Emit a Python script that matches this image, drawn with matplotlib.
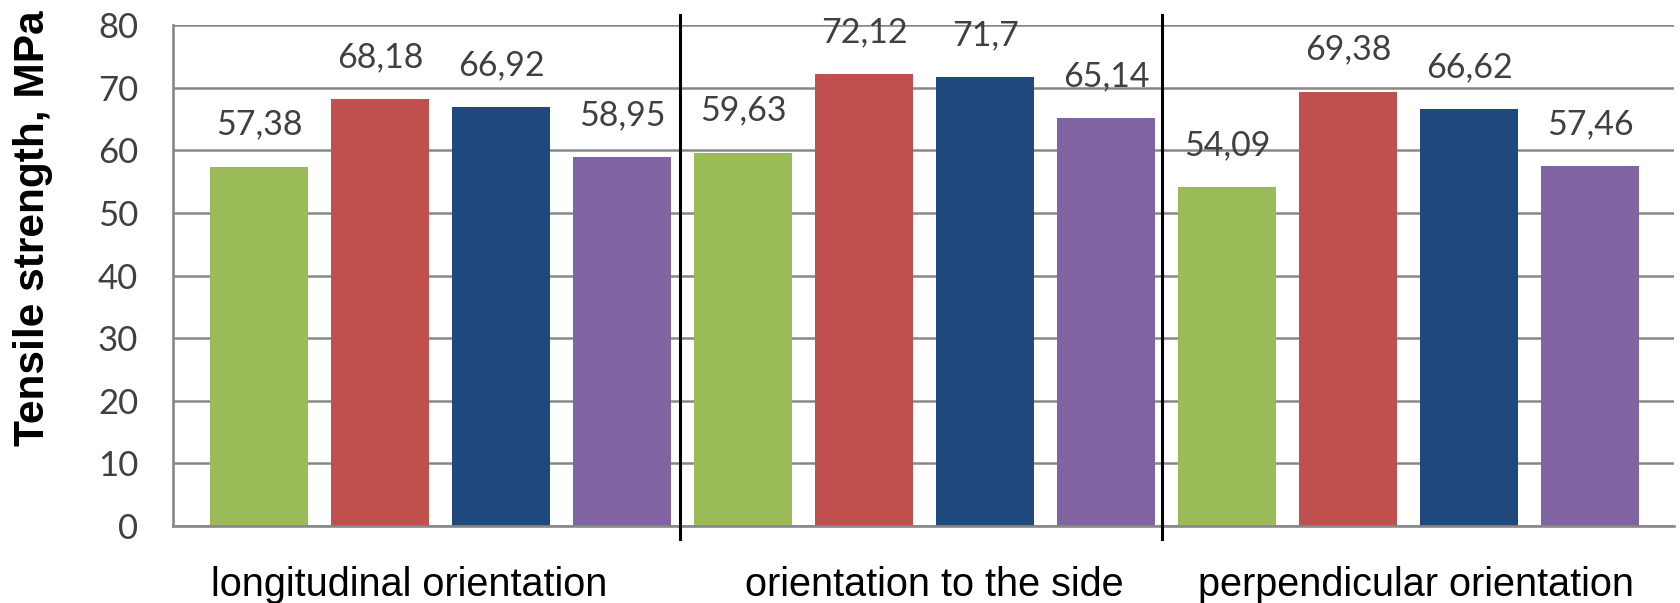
import matplotlib
matplotlib.use("Agg")
import matplotlib.pyplot as plt
import numpy as np

groups = ["longitudinal orientation", "orientation to the side", "perpendicular orientation"]
series_colors = ["#9BBB59", "#C0504D", "#1F497D", "#8064A2"]
values = [
    [57.38, 68.18, 66.92, 58.95],
    [59.63, 72.12, 71.70, 65.14],
    [54.09, 69.38, 66.62, 57.46],
]
value_labels = [
    ["57,38", "68,18", "66,92", "58,95"],
    ["59,63", "72,12", "71,7", "65,14"],
    ["54,09", "69,38", "66,62", "57,46"],
]
y_ticks = [0, 10, 20, 30, 40, 50, 60, 70, 80]
y_label = "Tensile strength, MPa"

fig = plt.figure(figsize=(16.81, 6.03), dpi=100)
ax = fig.add_axes([0.1029, 0.1277, 0.8929, 0.8308])

n_series = len(series_colors)
bar_w = 0.81
for g, vals in enumerate(values):
    for s, v in enumerate(vals):
        x = g * n_series + s
        ax.bar(x, v, width=bar_w, color=series_colors[s], zorder=2)
        ax.annotate(value_labels[g][s], (x, v), xytext=(0, 42 * 0.72),
                    textcoords="offset points", ha="center", va="center",
                    fontsize=24.5, family="Lato", color="#404040", zorder=3)

ax.set_xlim(-0.71, 11.69)
ax.set_ylim(0, 80)
ax.set_yticks(y_ticks)
ax.set_yticklabels([str(t) for t in y_ticks], family="Lato", fontsize=25, color="#404040")
ax.tick_params(axis="y", length=0, pad=25)
ax.set_xticks([])
ax.yaxis.grid(True, color="#888888", linewidth=1.8, zorder=0)
ax.set_axisbelow(True)
for side in ["top", "right"]:
    ax.spines[side].set_visible(False)
for side in ["left", "bottom"]:
    ax.spines[side].set_color("#888888")
    ax.spines[side].set_linewidth(1.9)

# group separators
for xs in [3.48, 7.46]:
    ax.plot([xs, xs], [-2.1, 81.6], color="black", linewidth=2.2, clip_on=False, zorder=4)

# group labels beneath the axis
label_x = [1.24, 5.58, 9.56]
for g, name in enumerate(groups):
    ax.text(label_x[g], -9.4, name, ha="center", va="center",
            fontsize=28.5, family="Liberation Sans", color="black")

fig.text(0.0196, 0.622, y_label, rotation=90, ha="center", va="center",
         fontsize=30.5, fontweight="bold", family="Liberation Sans", color="black")

fig.savefig("out.png", dpi=100)
